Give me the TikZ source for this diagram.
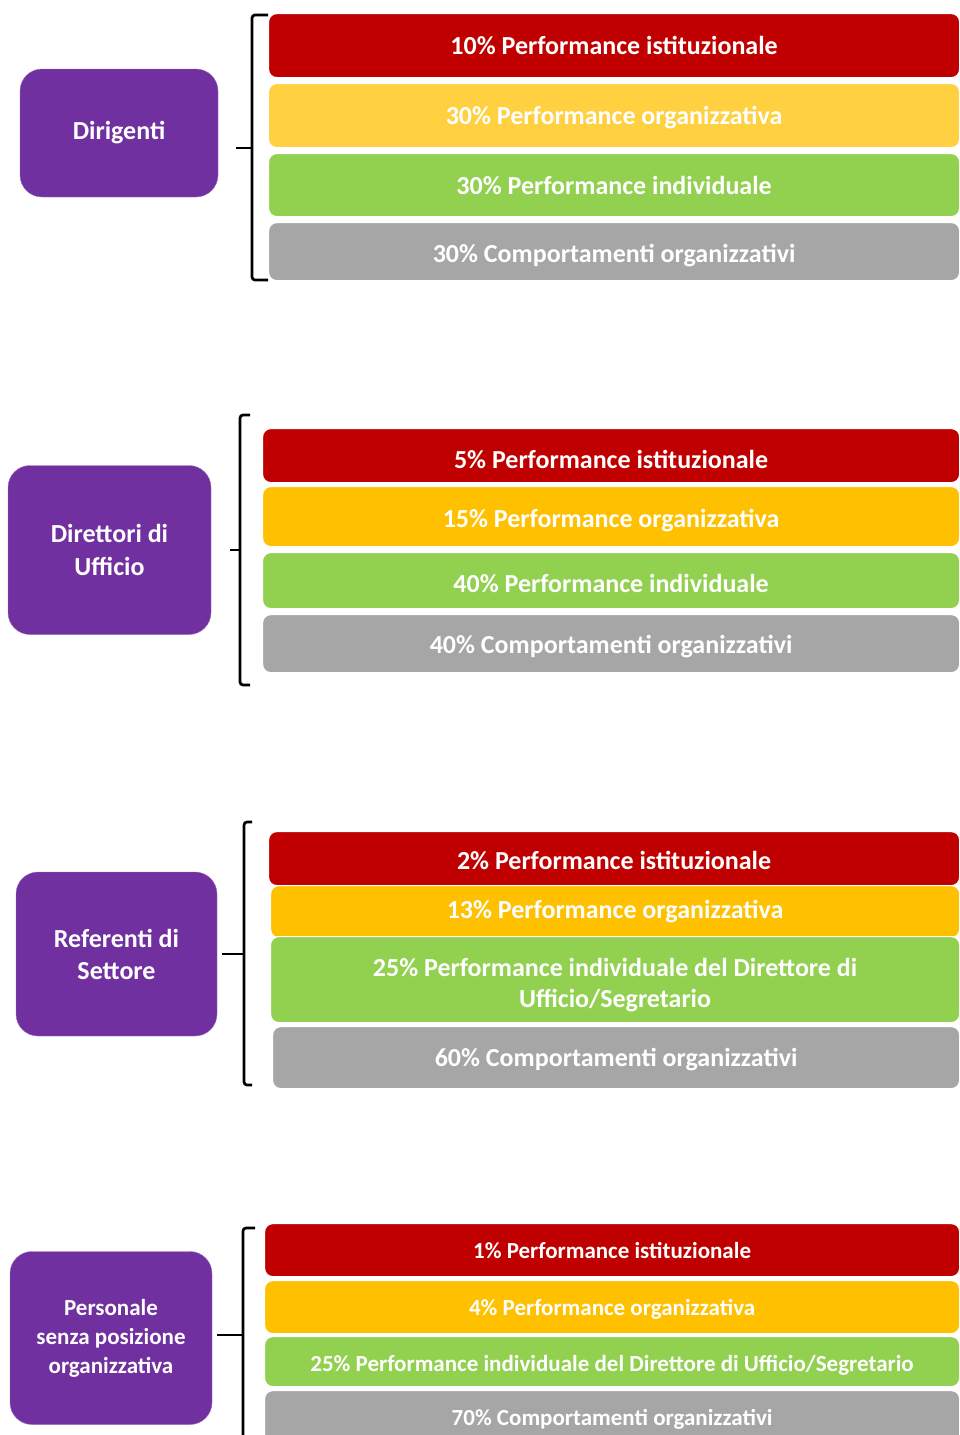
\documentclass[tikz,border=0pt]{standalone}
\usepackage{fontspec}
\setmainfont{Carlito}
\usepackage{tikz}
\usetikzlibrary{positioning}

\definecolor{rolepurple}{HTML}{7030A0}
\definecolor{barred}{HTML}{C00000}
\definecolor{baryellow}{HTML}{FFD040}
\definecolor{barorange}{HTML}{FFC000}
\definecolor{bargreen}{HTML}{92D050}
\definecolor{bargray}{HTML}{A6A6A6}

\begin{document}
\begin{tikzpicture}[x=1pt, y=-1pt,
    role/.style={fill=rolepurple, draw=rolepurple!70!white, rounded corners=22pt, text=white,
        align=center, inner sep=0pt, font=\bfseries\fontsize{26}{33}\selectfont},
    bar/.style={anchor=north west, draw=white, line width=1.2pt, rounded corners=8pt, text=white,
        align=center, inner sep=0pt, text height=19pt, text depth=0pt,
        font=\bfseries\fontsize{26}{31}\selectfont},
    small/.style={font=\bfseries\fontsize{23}{29}\selectfont},
    brace/.style={line width=2.7pt, rounded corners=3pt}]
    \useasboundingbox (0,0) rectangle (960,1435);
    \clip (0,0) rectangle (960,1435);

    % Dirigenti
    \node[role, minimum width=198pt, minimum height=128pt] (r1) at (119,133) {Dirigenti};
    \node[bar, fill=barred,    minimum width=691pt, minimum height=64pt, text height=18pt] (b11) at (268,13)  {10\% Performance istituzionale};
    \node[bar, fill=baryellow, minimum width=691pt, minimum height=64pt, text height=18pt] (b12) at (268,83)  {30\% Performance organizzativa};
    \node[bar, fill=bargreen,  minimum width=691pt, minimum height=63pt] (b13) at (268,153) {30\% Performance individuale};
    \node[bar, fill=bargray,   minimum width=691pt, minimum height=58pt, text height=21pt] (b14) at (268,222) {30\% Comportamenti organizzativi};
    \coordinate (t1) at (236,148);
    \draw[brace] (268,15) -- (252,15) -- (252,280) -- (268,280);
    \draw[brace] (t1) -- (252,148);

    % Direttori di Ufficio
    \node[role, minimum width=203pt, minimum height=169pt] (r2) at (109.5,550) {Direttori di\\Ufficio};
    \node[bar, fill=barred,    minimum width=697pt, minimum height=54pt, text height=26pt] (b21) at (262,428) {5\% Performance istituzionale};
    \node[bar, fill=barorange, minimum width=697pt, minimum height=60pt, text height=21pt] (b22) at (262,486) {15\% Performance organizzativa};
    \node[bar, fill=bargreen,  minimum width=697pt, minimum height=56pt, text height=23pt] (b23) at (262,552) {40\% Performance individuale};
    \node[bar, fill=bargray,   minimum width=697pt, minimum height=58pt, text height=19pt] (b24) at (262,614) {40\% Comportamenti organizzativi};
    \coordinate (t2) at (230,550);
    \draw[brace] (250,415) -- (240,415) -- (240,685) -- (250,685);
    \draw[brace] (t2) -- (240,550);

    % Referenti di Settore
    \node[role, minimum width=201pt, minimum height=164pt, font=\bfseries\fontsize{26}{32}\selectfont] (r3) at (116.5,954) {Referenti di\\Settore};
    \node[bar, fill=barred,    minimum width=691pt, minimum height=54pt, text height=22pt] (b31) at (268,831)  {2\% Performance istituzionale};
    \node[bar, fill=barorange, minimum width=689pt, minimum height=52pt, text height=14pt] (b32) at (270,885)  {13\% Performance organizzativa};
    \node[bar, fill=bargreen,  minimum width=689pt, minimum height=86pt, text height=55pt] (b33) at (270,936)  {25\% Performance individuale del Direttore di\\Ufficio/Segretario};
    \node[bar, fill=bargray,   minimum width=687pt, minimum height=62pt, text height=17pt] (b34) at (272,1026) {60\% Comportamenti organizzativi};
    \coordinate (t3) at (222,954);
    \draw[brace] (252,822) -- (244,822) -- (244,1085) -- (252,1085);
    \draw[brace] (t3) -- (244,954);

    % Personale senza posizione organizzativa
    \node[role, small, minimum width=202pt, minimum height=173pt] (r4) at (111,1338) {Personale\\senza posizione\\organizzativa};
    \node[bar, small, fill=barred,    minimum width=695pt, minimum height=53pt, text height=16pt] (b41) at (264,1223) {1\% Performance istituzionale};
    \node[bar, small, fill=barorange, minimum width=695pt, minimum height=53pt, text height=17pt] (b42) at (264,1280) {4\% Performance organizzativa};
    \node[bar, small, fill=bargreen,  minimum width=695pt, minimum height=50pt, text height=19pt] (b43) at (264,1336) {25\% Performance individuale del Direttore di Ufficio/Segretario};
    \node[bar, small, fill=bargray,   minimum width=695pt, minimum height=54pt, text height=16pt] (b44) at (264,1390) {70\% Comportamenti organizzativi};
    \coordinate (t4) at (217,1335);
    \draw[brace] (255,1228) -- (243,1228) -- (243,1450);
    \draw[brace] (t4) -- (243,1335);
\end{tikzpicture}
\end{document}
